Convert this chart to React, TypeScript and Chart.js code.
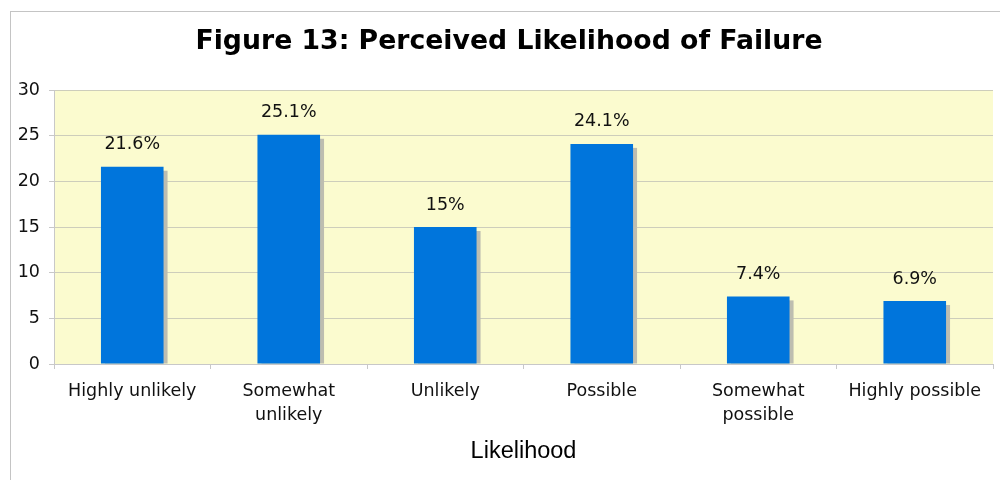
import React, { useEffect, useRef } from "react";
import { Chart, registerables } from "chart.js";

Chart.register(...registerables);

const categories: (string | string[])[] = [
  "Highly unlikely",
  ["Somewhat", "unlikely"],
  "Unlikely",
  "Possible",
  ["Somewhat", "possible"],
  "Highly possible",
];
const values = [21.6, 25.1, 15, 24.1, 7.4, 6.9];
const valueLabels = ["21.6%", "25.1%", "15%", "24.1%", "7.4%", "6.9%"];
const chartTitle = "Figure 13: Perceived Likelihood of Failure";
const xTitle = "Likelihood";

const decorPlugin = {
  id: "decor",
  beforeDraw(chart: any) {
    const { ctx, chartArea } = chart;
    ctx.save();
    ctx.fillStyle = "#ffffff";
    ctx.fillRect(0, 0, chart.width, chart.height);
    ctx.strokeStyle = "#c4c4c4";
    ctx.lineWidth = 1;
    ctx.strokeRect(10.5, 11.5, chart.width + 20, chart.height + 20);
    ctx.fillStyle = "#fbfbcf";
    ctx.fillRect(chartArea.left, chartArea.top, chartArea.right - chartArea.left, chartArea.bottom - chartArea.top);
    ctx.fillStyle = "#000000";
    ctx.font = "bold 26.7px 'DejaVu Sans'";
    ctx.textAlign = "center";
    ctx.textBaseline = "middle";
    ctx.fillText(chartTitle, 509, 42);
    ctx.restore();
  },
  beforeDatasetsDraw(chart: any) {
    const { ctx } = chart;
    const meta = chart.getDatasetMeta(0);
    ctx.save();
    ctx.fillStyle = "#bdbdb0";
    meta.data.forEach((el: any) => {
      const { x, y, base, width } = el.getProps(["x", "y", "base", "width"], true);
      ctx.fillRect(x - width / 2 + 4, y + 4, width, base - y - 4);
    });
    ctx.restore();
  },
  afterDatasetsDraw(chart: any) {
    const { ctx } = chart;
    const meta = chart.getDatasetMeta(0);
    ctx.save();
    ctx.fillStyle = "#111111";
    ctx.font = "17.5px 'DejaVu Sans'";
    ctx.textAlign = "center";
    ctx.textBaseline = "middle";
    meta.data.forEach((el: any, i: number) => {
      const { x, y } = el.getProps(["x", "y"], true);
      ctx.fillText(valueLabels[i], x, y - 22);
    });
    ctx.restore();
  },
};

export default function App() {
  const ref = useRef<HTMLCanvasElement>(null);
  useEffect(() => {
    if (!ref.current) return;
    const chart = new Chart(ref.current, {
      type: "bar",
      data: {
        labels: categories,
        datasets: [
          {
            data: values,
            backgroundColor: "#0075dc",
            borderWidth: 0,
            categoryPercentage: 1,
            barPercentage: 0.4,
          },
        ],
      },
      options: {
        responsive: false,
        animation: false,
        devicePixelRatio: 1,
        layout: { padding: { left: 0, right: 7, top: 90, bottom: 0 } },
        plugins: {
          legend: { display: false },
          tooltip: { enabled: false },
          title: { display: false },
        },
        scales: {
          x: {
            grid: {
              display: true,
              drawOnChartArea: false,
              drawTicks: true,
              tickLength: 5,
              color: "#c8c8c8",
              offset: true,
            },
            border: { display: true, color: "#c8c8c8" },
            ticks: {
              color: "#111111",
              font: { family: "'DejaVu Sans'", size: 17.5, lineHeight: 1.38 },
              padding: 10,
              maxRotation: 0,
              autoSkip: false,
            },
            title: {
              display: true,
              text: xTitle,
              color: "#000000",
              font: { family: "'Liberation Sans'", size: 23.5, lineHeight: 1.2 },
              padding: { top: 4, bottom: 14 },
            },
            afterFit(scale: any) {
              scale.height = 116;
            },
          },
          y: {
            min: 0,
            max: 30,
            ticks: {
              stepSize: 5,
              color: "#111111",
              font: { family: "'DejaVu Sans'", size: 17.5 },
              padding: 9,
            },
            grid: {
              color: "#cdcdbb",
              tickLength: 5,
              tickColor: "#c8c8c8",
            },
            border: { display: true, color: "#c8c8c8" },
            afterFit(scale: any) {
              scale.width = 54;
            },
          },
        },
      },
      plugins: [decorPlugin],
    });
    return () => chart.destroy();
  }, []);
  return (
    <div style={{ position: "absolute", left: 0, top: 0, width: 1000, height: 480 }}>
      <canvas ref={ref} width={1000} height={480} style={{ display: "block" }} />
    </div>
  );
}
